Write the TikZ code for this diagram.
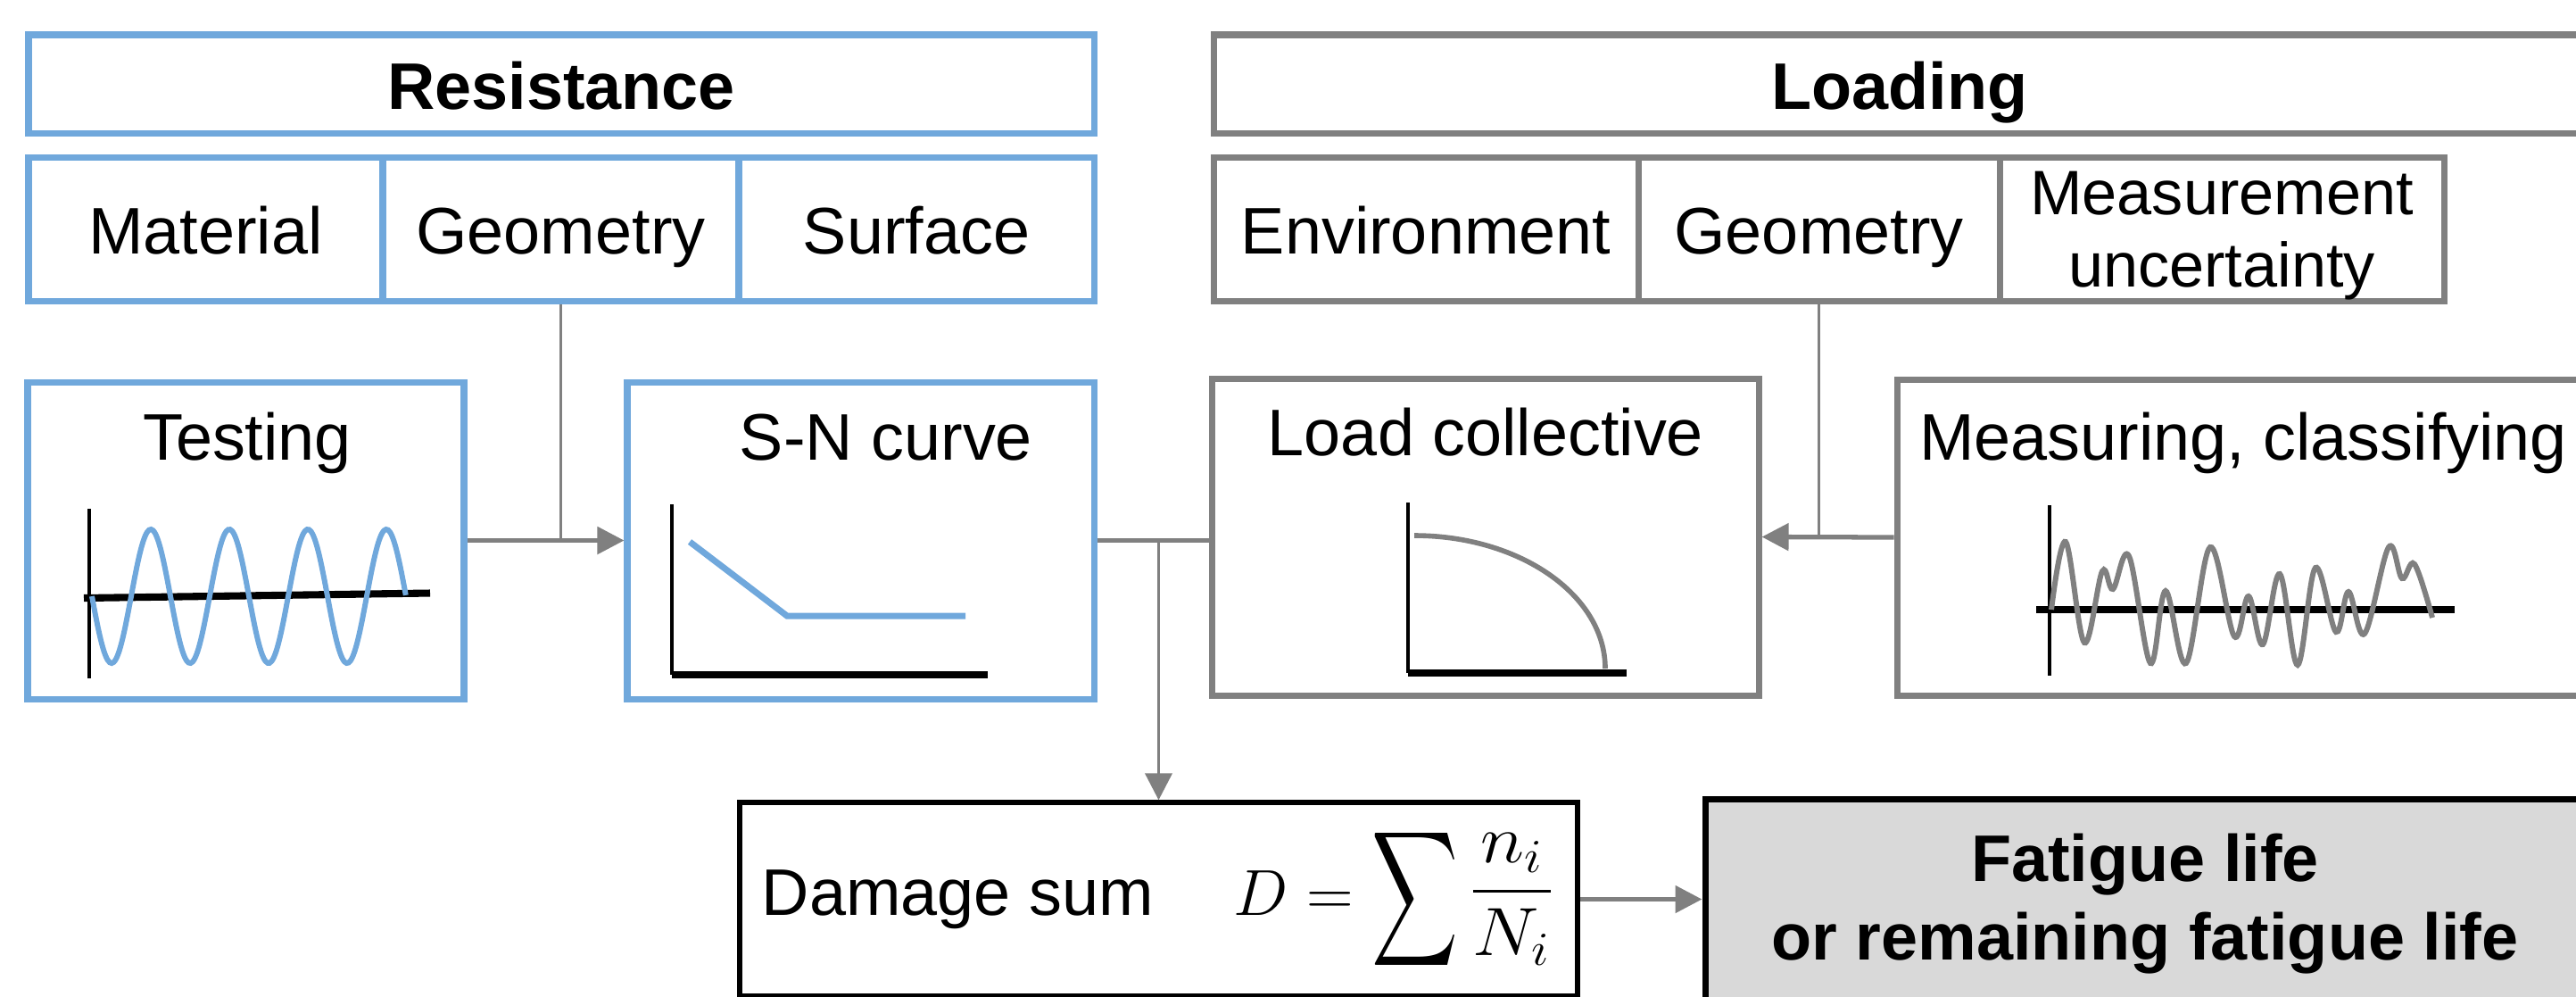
\documentclass[tikz,border=0pt]{standalone}
\usepackage{amsmath}
\usepackage{exscale}
\usepackage{fontspec}
\setmainfont{Liberation Sans}
\usepackage{graphicx}
\usetikzlibrary{arrows.meta}
\definecolor{resblue}{RGB}{112,168,220}
\definecolor{loadgray}{RGB}{128,128,128}
\definecolor{lifegray}{RGB}{217,217,217}

\begin{document}
\begin{tikzpicture}[>={Triangle[length=3mm,width=3mm]},
    txt/.style={font=\fontsize{21}{25}\selectfont},
    resbox/.style={draw=resblue,line width=2pt,inner sep=0pt,txt},
    loadbox/.style={draw=loadgray,line width=2pt,inner sep=0pt,txt},
    hdr/.style={text height=0.71cm,text depth=0.15cm},
    conn/.style={draw=loadgray,line width=1.5pt},
    connthin/.style={draw=loadgray,line width=1.1pt}]
        \useasboundingbox (0,0) rectangle (28.87,-11.16);
        % headers
        \node (resist) [resbox,hdr,font=\fontsize{21}{25}\selectfont\bfseries,minimum width=11.94cm,minimum height=1.10cm] at (6.29,-0.94) {Resistance};
        \node (load) [loadbox,hdr,font=\fontsize{21}{25}\selectfont\bfseries,minimum width=15.38cm,minimum height=1.10cm] at (21.29,-0.94) {Loading};
        \node (mat) [resbox,hdr,minimum width=3.97cm,minimum height=1.61cm] at (2.305,-2.565) {Material};
        \node (geoR) [resbox,hdr,minimum width=3.99cm,minimum height=1.61cm] at (6.285,-2.565) {Geometry};
        \node (surf) [resbox,hdr,minimum width=3.98cm,minimum height=1.61cm] at (10.27,-2.565) {Surface};
        \node (env) [loadbox,hdr,minimum width=4.76cm,minimum height=1.61cm] at (15.98,-2.565) {Environment};
        \node (geoL) [loadbox,hdr,minimum width=4.05cm,minimum height=1.61cm] at (20.385,-2.565) {Geometry};
        \node (meas) [loadbox,align=center,font=\fontsize{20}{23}\selectfont,minimum width=4.98cm,minimum height=1.61cm] at (24.90,-2.565) {\rule{0pt}{0.63cm}Measurement\\uncertainty};
        % middle row
        \node (testing) [resbox,minimum width=4.89cm,minimum height=3.55cm] at (2.755,-6.055) {};
        \node (sncurve) [resbox,minimum width=5.23cm,minimum height=3.55cm] at (9.645,-6.055) {};
        \node (lcoll) [loadbox,minimum width=6.13cm,minimum height=3.55cm] at (16.645,-6.015) {};
        \node (measure) [loadbox,minimum width=7.76cm,minimum height=3.54cm] at (25.14,-6.02) {};
        \node (testingT) [txt,anchor=base] at (2.77,-5.15) {Testing};
        \node (sncurveT) [txt,anchor=base] at (9.93,-5.15) {S-N curve};
        \node (lcollT) [txt,anchor=base] at (16.65,-5.10) {Load collective};
        \node (measureT) [txt,anchor=base] at (25.14,-5.15) {Measuring, classifying};
        % bottom row
        \node (damage) [draw,line width=1.5pt,inner sep=0pt,txt,minimum width=9.39cm,minimum height=2.17cm] at (12.985,-10.075)
            {Damage sum\hspace{0.9cm}$D=\mathop{\vcenter{\hbox{\scalebox{0.92}[1.45]{$\displaystyle\sum$}}}}\vcenter{\hbox{\scalebox{1.15}[1.05]{$\displaystyle\frac{n_i}{N_i}$}}}$\hspace{0.26cm}};
        \node (life) [draw,fill=lifegray,line width=2pt,inner sep=0pt,align=center,font=\fontsize{21}{25}\selectfont\bfseries,minimum width=9.86cm,minimum height=2.35cm] at (24.04,-10.125)
            {Fatigue life\\or remaining fatigue life};
        % testing signal
        \draw [line width=1.3pt] (1.00,-5.70) -- (1.00,-7.60);
        \draw [line width=2.3pt] (0.94,-6.70) -- (4.82,-6.645);
        \draw [resblue,line width=1.7pt,domain=1.03:4.55,samples=160,smooth] plot (\x,{-6.68-0.75*sin(360*(\x-1.03)/0.88)});
        % S-N curve
        \draw [line width=1.3pt] (7.53,-5.65) -- (7.53,-7.56);
        \draw [line width=2.3pt] (7.53,-7.56) -- (11.07,-7.56);
        \draw [resblue,line width=2pt] (7.73,-6.07) -- (8.82,-6.90) -- (10.82,-6.90);
        % load collective
        \draw [line width=1.3pt] (15.78,-5.63) -- (15.78,-7.54);
        \draw [line width=2.3pt] (15.78,-7.54) -- (18.23,-7.54);
        \draw [loadgray,line width=1.6pt] (15.85,-6.00) arc [start angle=90,end angle=0,x radius=2.14,y radius=1.49];
        % measured signal
        \draw [line width=1.3pt] (22.97,-5.66) -- (22.97,-7.57);
        \draw [line width=2.3pt] (22.82,-6.83) -- (27.51,-6.83);
        \draw [loadgray,line width=1.7pt] plot [smooth,tension=0.6] coordinates {(22.99,-6.83) (23.15,-6.07) (23.36,-7.20) (23.56,-6.40) (23.68,-6.60) (23.86,-6.23) (24.10,-7.43) (24.27,-6.62) (24.50,-7.43) (24.77,-6.13) (25.04,-7.13) (25.20,-6.68) (25.36,-7.22) (25.55,-6.43) (25.75,-7.45) (25.95,-6.36) (26.18,-7.08) (26.32,-6.63) (26.50,-7.10) (26.77,-6.13) (26.92,-6.48) (27.06,-6.32) (27.26,-6.92)};
        % connectors
        \draw [conn,->] (testing.east) -- (sncurve.west);
        \draw [connthin] (geoR.south) -- (geoR.south |- sncurve.west);
        \draw [conn] (sncurve.east) -- (sncurve.east -| lcoll.west);
        \draw [connthin,->] (sncurve.east -| damage.north) -- (damage.north);
        \draw [conn,->] (measure.west) -- (lcoll.east);
        \draw [connthin] (geoL.south) -- (geoL.south |- lcoll.east);
        \draw [conn,->] (damage.east) -- (damage.east -| life.west);
    \end{tikzpicture}
\end{document}
